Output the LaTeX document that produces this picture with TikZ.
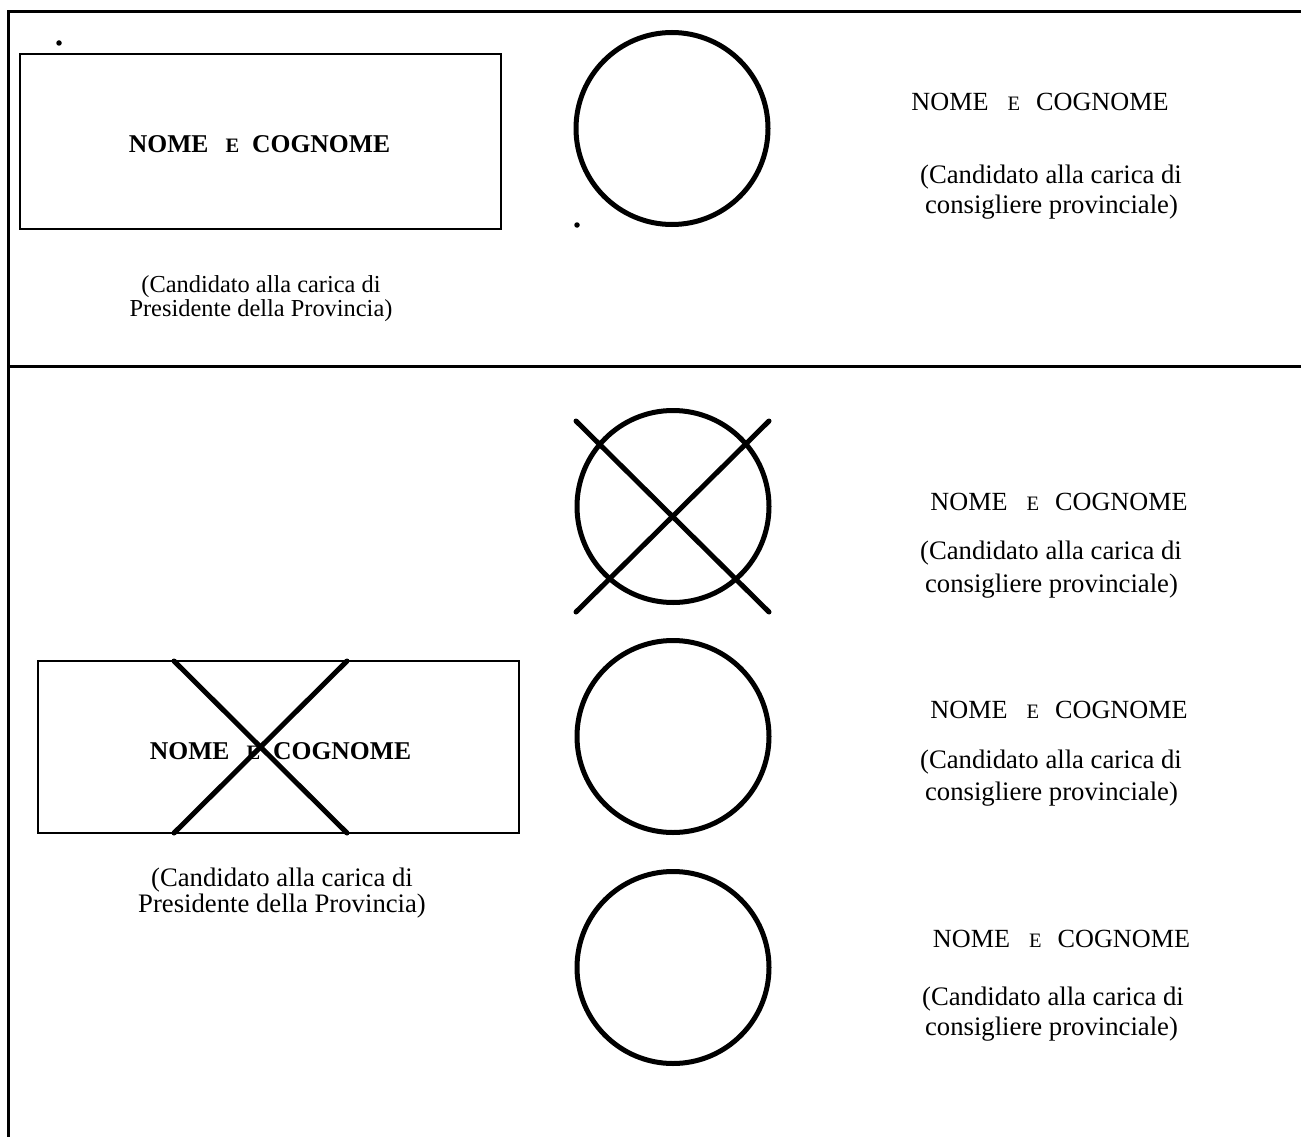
\documentclass[tikz,border=0pt]{standalone}
\usepackage{fontspec}
\setmainfont{Liberation Serif}
\newcommand{\nomecog}[2]{NOME\hspace{#1}{\fontsize{20.5}{20}\selectfont E}\hspace{#2}COGNOME}
\begin{document}
\begin{tikzpicture}[x=1pt,y=-1pt,
  frameline/.style={line width=3pt},
  ballotbox/.style={draw, rectangle, line width=1.2pt, inner sep=0pt, outer sep=0pt},
  markcircle/.style={draw, circle, line width=5pt, minimum size=192pt, inner sep=0pt, outer sep=0pt},
  crossline/.style={line width=5pt, line cap=round},
  nametxt/.style={anchor=base, inner sep=0pt, font=\fontsize{26.2}{30}\selectfont},
  candtxt/.style={anchor=base, inner sep=0pt, font=\fontsize{26.7}{30}\selectfont},
  captxt/.style={anchor=base, inner sep=0pt, align=center, font=\fontsize{24.4}{24}\selectfont},
  boldtxt/.style={anchor=base, inner sep=0pt, font=\fontsize{25.6}{30}\selectfont\bfseries},
  dotmark/.style={fill, circle, inner sep=0pt, minimum size=5.5pt}]

\useasboundingbox (0,0) rectangle (1301,1137);

% frame
\coordinate (ftr) at (1301,11.5);
\coordinate (ftl) at (8,11.5);
\coordinate (fbl) at (8,1137);
\coordinate (fml) at (8,366.5);
\coordinate (fmr) at (1301,366.5);
\draw[frameline] (ftr) -- (ftl) -- (fbl);
\draw[frameline] (fml) -- (fmr);

% ---------- upper part ----------
\node[dotmark] (dot1) at (59,43) {};
\node[ballotbox, minimum width=481pt, minimum height=175pt] (box1) at (260.5,141.5) {};
\node[boldtxt] (box1txt) at (259.5,153) {\nomecog{17pt}{13pt}};
\node[captxt] (cap1) at (261,316) {(Candidato alla carica di\\Presidente della Provincia)};

\node[markcircle] (c1) at (672,128.5) {};
\node[dotmark] (dot2) at (577,225) {};

\node[nametxt] (r1n) at (1040,111) {\nomecog{19pt}{16pt}};
\node[candtxt] (r1a) at (1051,183) {(Candidato alla carica di};
\node[candtxt] (r1b) at (1051.5,213) {consigliere provinciale)};

% ---------- lower part ----------
\node[ballotbox, minimum width=481pt, minimum height=172pt] (box2) at (278.5,747) {};
\node[boldtxt] (box2txt) at (280.5,759) {\nomecog{17pt}{13pt}};
\coordinate (bx1) at (174,661);
\coordinate (bx2) at (347,833);
\coordinate (bx3) at (347,661);
\coordinate (bx4) at (174,833);
\draw[crossline] (bx1) -- (bx2);
\draw[crossline] (bx3) -- (bx4);
\node[captxt, font=\fontsize{26.7}{24}\selectfont] (cap2) at (282,912) {(Candidato alla carica di\\Presidente della Provincia)};

\node[markcircle] (c2) at (673,506.5) {};
\coordinate (cx1) at (576,421);
\coordinate (cx2) at (769,612);
\coordinate (cx3) at (769,421);
\coordinate (cx4) at (576,612);
\draw[crossline] (cx1) -- (cx2);
\draw[crossline] (cx3) -- (cx4);
\node[markcircle] (c3) at (673,736.5) {};
\node[markcircle] (c4) at (673,967.5) {};

\node[nametxt] (r2n) at (1059,510) {\nomecog{19pt}{16pt}};
\node[candtxt] (r2a) at (1051,559) {(Candidato alla carica di};
\node[candtxt] (r2b) at (1051.5,592) {consigliere provinciale)};

\node[nametxt] (r3n) at (1059,718) {\nomecog{19pt}{16pt}};
\node[candtxt] (r3a) at (1051,768) {(Candidato alla carica di};
\node[candtxt] (r3b) at (1051.5,800) {consigliere provinciale)};

\node[nametxt] (r4n) at (1061.5,947) {\nomecog{19pt}{16pt}};
\node[candtxt] (r4a) at (1053,1005) {(Candidato alla carica di};
\node[candtxt] (r4b) at (1051.5,1035) {consigliere provinciale)};
\end{tikzpicture}
\end{document}
